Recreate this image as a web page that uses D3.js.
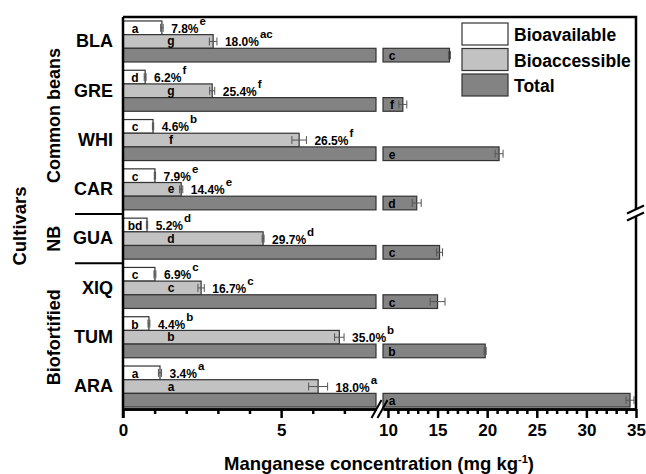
<!DOCTYPE html>
<meta charset="utf-8">
<style>

    body {
        margin: 0;
        background: #fff;
    }

    svg {
        font-family: "Liberation Sans", Arial, sans-serif;
        font-weight: bold;
    }

    .bar {
        stroke: #333;
        stroke-width: 1.2;
    }

    .err line {
        stroke: #555;
        stroke-width: 1;
    }

    .axis path, .axis line {
        stroke: #000;
        stroke-width: 2.5;
    }

    .axis text {
        font-size: 17px;
        font-weight: bold;
        fill: #000;
    }

    .frame {
        stroke: #000;
        stroke-width: 2.5;
        fill: none;
    }

</style>
<svg width="646" height="474"></svg>
<script src="https://d3js.org/d3.v7.min.js"></script>
<script>
    var cultivars = ["BLA", "GRE", "WHI", "CAR", "GUA", "XIQ", "TUM", "ARA"];
    var series = ["Bioavailable", "Bioaccessible", "Total"];

    var bioavailable = [1.23, 0.70, 0.95, 1.01, 0.76, 1.01, 0.82, 1.17];
    var bioavailableErr = [0.04, 0.03, 0.02, 0.02, 0.02, 0.03, 0.03, 0.05];
    var bioaccessible = [2.85, 2.82, 5.57, 1.84, 4.43, 2.47, 6.84, 6.17];
    var bioaccessibleErr = [0.12, 0.08, 0.23, 0.05, 0.03, 0.1, 0.15, 0.3];
    var total = [16.2, 11.5, 21.2, 12.9, 15.2, 15.0, 19.8, 34.4];
    var totalErr = [0.1, 0.4, 0.4, 0.45, 0.3, 0.75, 0.1, 0.4];

    var availLetters = ["a", "d", "c", "c", "bd", "c", "b", "a"];
    var accLetters = ["g", "g", "f", "e", "d", "c", "b", "a"];
    var totalLetters = ["c", "f", "e", "d", "c", "c", "b", "a"];

    var availPct = ["7.8%", "6.2%", "4.6%", "7.9%", "5.2%", "6.9%", "4.4%", "3.4%"];
    var availPctSup = ["e", "f", "b", "e", "d", "c", "b", "a"];
    var accPct = ["18.0%", "25.4%", "26.5%", "14.4%", "29.7%", "16.7%", "35.0%", "18.0%"];
    var accPctSup = ["ac", "f", "f", "e", "d", "c", "b", "a"];

    var groups = [
        {label: "Common beans", from: "BLA", to: "CAR"},
        {label: "NB", from: "GUA", to: "GUA"},
        {label: "Biofortified", from: "XIQ", to: "ARA"}
    ];

    var leftMajor = [0, 5], leftMinor = [1, 2, 3, 4, 6, 7];
    var rightMajor = [10, 15, 20, 25, 30, 35];

    var svg = d3.select("svg"),
        plotTop = 17, plotBottom = 409, plotLeft = 123, plotRight = 636;

    var y = d3.scaleBand()
        .domain(cultivars)
        .range([plotTop, plotBottom])
        .paddingInner(0.168)
        .paddingOuter(0.06)
        .align(0.67);

    var ySub = d3.scaleBand()
        .domain(series)
        .range([0, y.bandwidth()]);

    // broken x axis: two linear pieces
    var xL = d3.scaleLinear().domain([0, 8]).range([plotLeft, 376]);
    var xR = d3.scaleLinear().domain([9.5, 35]).range([383, plotRight]);

    var color = d3.scaleOrdinal()
        .domain(series)
        .range(["#ffffff", "#c2c2c2", "#838383"]);

    var rows = cultivars.map(function (c, i) {
        return {
            name: c,
            avail: bioavailable[i], availErr: bioavailableErr[i],
            acc: bioaccessible[i], accErr: bioaccessibleErr[i],
            total: total[i], totalErr: totalErr[i],
            availLetter: availLetters[i], accLetter: accLetters[i], totalLetter: totalLetters[i],
            availPct: availPct[i], availSup: availPctSup[i],
            accPct: accPct[i], accSup: accPctSup[i]
        };
    });

    var row = svg.append("g")
        .selectAll("g")
        .data(rows)
        .enter().append("g")
        .attr("transform", function (d) {
            return "translate(0," + y(d.name) + ")";
        });

    var h = ySub.bandwidth();

    // bars
    row.append("rect").attr("class", "bar")
        .attr("x", xL(0)).attr("y", ySub("Bioavailable"))
        .attr("width", function (d) { return xL(d.avail) - xL(0); })
        .attr("height", h)
        .attr("fill", color("Bioavailable"));

    row.append("rect").attr("class", "bar")
        .attr("x", xL(0)).attr("y", ySub("Bioaccessible"))
        .attr("width", function (d) { return xL(d.acc) - xL(0); })
        .attr("height", h)
        .attr("fill", color("Bioaccessible"));

    row.append("rect").attr("class", "bar")
        .attr("x", xL(0)).attr("y", ySub("Total"))
        .attr("width", xL(xL.domain()[1]) - xL(0))
        .attr("height", h)
        .attr("fill", color("Total"));

    row.append("rect").attr("class", "bar")
        .attr("x", xR(xR.domain()[0])).attr("y", ySub("Total"))
        .attr("width", function (d) { return xR(d.total) - xR(xR.domain()[0]); })
        .attr("height", h)
        .attr("fill", color("Total"));

    // error bars
    function errorBar(sel, x, value, err, key) {
        var g = sel.append("g").attr("class", "err");
        var yc = ySub(key) + h / 2;
        g.append("line")
            .attr("x1", function (d) { return x(value(d) - err(d)); })
            .attr("x2", function (d) { return x(value(d) + err(d)); })
            .attr("y1", yc).attr("y2", yc);
        [-1, 1].forEach(function (s) {
            g.append("line")
                .attr("x1", function (d) { return x(value(d) + s * err(d)); })
                .attr("x2", function (d) { return x(value(d) + s * err(d)); })
                .attr("y1", yc - 4).attr("y2", yc + 4);
        });
    }

    errorBar(row, xL, function (d) { return d.avail; }, function (d) { return d.availErr; }, "Bioavailable");
    errorBar(row, xL, function (d) { return d.acc; }, function (d) { return d.accErr; }, "Bioaccessible");
    errorBar(row, xR, function (d) { return d.total; }, function (d) { return d.totalErr; }, "Total");

    // letters inside bars
    row.append("text")
        .attr("x", xL(0) + 12).attr("y", ySub("Bioavailable") + h / 2 + 5)
        .attr("text-anchor", "middle").style("font-size", "12px")
        .text(function (d) { return d.availLetter; });

    row.append("text")
        .attr("x", xL(0) + 48).attr("y", ySub("Bioaccessible") + h / 2 + 4)
        .attr("text-anchor", "middle").style("font-size", "12px")
        .text(function (d) { return d.accLetter; });

    row.append("text")
        .attr("x", xR(xR.domain()[0]) + 9).attr("y", ySub("Total") + h / 2 + 5)
        .attr("text-anchor", "middle").style("font-size", "12px")
        .text(function (d) { return d.totalLetter; });

    // percentage labels with superscript letters
    function pctLabel(sel, value, err, pct, sup, key) {
        var t = sel.append("text")
            .attr("x", function (d) { return xL(value(d) + err(d)) + 8; })
            .attr("y", ySub(key) + h / 2 + 5)
            .style("font-size", "12px");
        t.append("tspan").text(pct);
        t.append("tspan")
            .attr("dx", 1).attr("dy", -8)
            .style("font-size", "11.5px")
            .text(sup);
    }

    pctLabel(row, function (d) { return d.avail; }, function (d) { return d.availErr; },
        function (d) { return d.availPct; }, function (d) { return d.availSup; }, "Bioavailable");
    pctLabel(row, function (d) { return d.acc; }, function (d) { return d.accErr; },
        function (d) { return d.accPct; }, function (d) { return d.accSup; }, "Bioaccessible");

    // x axis, two pieces
    var axisY = plotBottom;

    function drawAxis(scale, major, minor) {
        svg.append("g").attr("class", "axis")
            .attr("transform", "translate(0," + axisY + ")")
            .call(d3.axisBottom(scale).tickValues(minor).tickSize(5).tickSizeOuter(0).tickFormat(""));
        svg.append("g").attr("class", "axis")
            .attr("transform", "translate(0," + axisY + ")")
            .call(d3.axisBottom(scale).tickValues(major).tickSize(9).tickSizeOuter(0).tickPadding(6).tickFormat(d3.format("d")));
    }

    drawAxis(xL, leftMajor, leftMinor);
    drawAxis(xR, rightMajor, d3.range(10, 35).filter(function (v) { return v % 5 !== 0; }));

    // axis break marks
    var bx = (xL.range()[1] + xR.range()[0]) / 2;
    [-3, 3].forEach(function (o) {
        svg.append("line").attr("class", "frame")
            .attr("x1", bx + o - 5).attr("y1", axisY + 9)
            .attr("x2", bx + o + 5).attr("y2", axisY - 9)
            .style("stroke-width", 2);
    });

    // left axis with cultivar names
    svg.append("g").attr("class", "axis")
        .attr("transform", "translate(" + plotLeft + ",0)")
        .call(d3.axisLeft(y).tickSize(0).tickPadding(10))
        .call(function (g) {
            g.select(".domain").attr("d", "M0," + plotTop + "V" + (plotBottom + 9));
            g.selectAll("text").style("font-size", "18px");
        });

    // top and right frame
    var breakY = 213;
    svg.append("path").attr("class", "frame")
        .attr("d", "M" + plotLeft + "," + plotTop + "H" + plotRight + "V" + (breakY - 4)
            + "M" + plotRight + "," + (breakY + 4) + "V" + plotBottom);
    [-3.5, 3.5].forEach(function (o) {
        svg.append("line").attr("class", "frame")
            .attr("x1", plotRight - 9).attr("y1", breakY + o + 4)
            .attr("x2", plotRight + 8).attr("y2", breakY + o - 4)
            .style("stroke-width", 2);
    });

    // group labels and separators
    groups.forEach(function (g, i) {
        var y0 = y(g.from), y1 = y(g.to) + y.bandwidth();
        svg.append("text")
            .attr("transform", "translate(60," + (y0 + y1) / 2 + ") rotate(-90)")
            .attr("text-anchor", "middle")
            .style("font-size", "18px")
            .text(g.label);
        if (i > 0) {
            var prev = groups[i - 1];
            var ys = (y(prev.to) + y.bandwidth() + y(g.from)) / 2;
            svg.append("line")
                .attr("x1", 75).attr("x2", plotLeft)
                .attr("y1", ys).attr("y2", ys)
                .attr("stroke", "#000").attr("stroke-width", 2);
        }
    });

    svg.append("text")
        .attr("transform", "translate(26,226) rotate(-90)")
        .attr("text-anchor", "middle")
        .style("font-size", "18.5px")
        .text("Cultivars");

    // x axis title
    var title = svg.append("text")
        .attr("x", 379).attr("y", 470)
        .attr("text-anchor", "middle")
        .style("font-size", "18.5px");
    title.append("tspan").text("Manganese concentration (mg kg");
    title.append("tspan").attr("dy", -7).style("font-size", "11px").text("-1");
    title.append("tspan").attr("dy", 7).text(")");

    // legend
    var legend = svg.append("g")
        .selectAll("g")
        .data(series)
        .enter().append("g")
        .attr("transform", function (d, i) {
            return "translate(462," + (23 + i * 25.5) + ")";
        });

    legend.append("rect").attr("class", "bar")
        .attr("width", 46).attr("height", 22)
        .attr("fill", color);

    legend.append("text")
        .attr("x", 52).attr("y", 18)
        .style("font-size", "17.5px")
        .text(function (d) { return d; });

</script>
